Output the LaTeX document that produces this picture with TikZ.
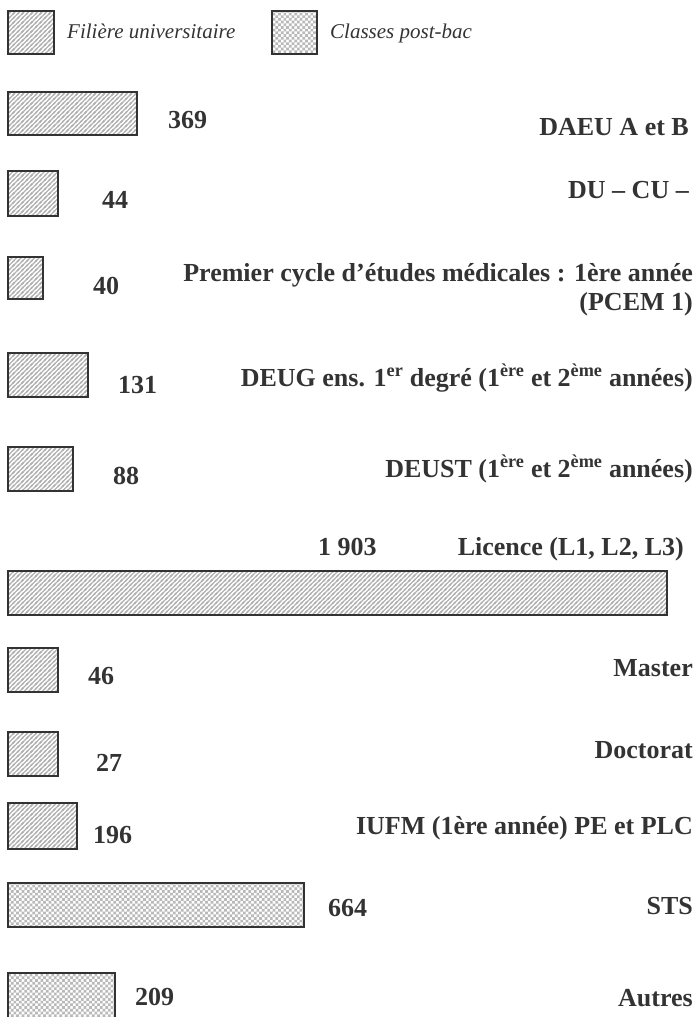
\documentclass[tikz,border=0pt]{standalone}
\usepackage{fontspec}
\setmainfont{Liberation Serif}
\usetikzlibrary{patterns}
\pgfdeclarepatternformonly{mychecker}{\pgfqpoint{-1pt}{-1pt}}{\pgfqpoint{6.4pt}{6.4pt}}{\pgfqpoint{5.4pt}{5.4pt}}{%
  \pgfpathrectangle{\pgfqpoint{0pt}{0pt}}{\pgfqpoint{2.7pt}{2.7pt}}%
  \pgfpathrectangle{\pgfqpoint{2.7pt}{2.7pt}}{\pgfqpoint{2.7pt}{2.7pt}}%
  \pgfusepath{fill}}
\pgfdeclarepatternformonly{myhatch}{\pgfqpoint{-1pt}{-1pt}}{\pgfqpoint{5.5pt}{5.5pt}}{\pgfqpoint{4.5pt}{4.5pt}}{%
  \pgfsetlinewidth{1.1pt}%
  \pgfpathmoveto{\pgfqpoint{-1pt}{-1pt}}\pgfpathlineto{\pgfqpoint{5.5pt}{5.5pt}}%
  \pgfpathmoveto{\pgfqpoint{-1pt}{3.5pt}}\pgfpathlineto{\pgfqpoint{1pt}{5.5pt}}%
  \pgfpathmoveto{\pgfqpoint{3.5pt}{-1pt}}\pgfpathlineto{\pgfqpoint{5.5pt}{1pt}}%
  \pgfusepath{stroke}}
\definecolor{frame}{HTML}{333333}
\begin{document}
\begin{tikzpicture}[x=1pt,y=-1pt,
  univ/.style={draw=frame,line width=2pt,pattern=myhatch,pattern color=gray!60},
  post/.style={draw=frame,line width=2pt,pattern=mychecker,pattern color=gray!55},
  num/.style={anchor=base west,inner sep=0pt,font=\bfseries\fontsize{26}{30}\selectfont,text=frame},
  lab/.style={anchor=base east,inner sep=0pt,font=\bfseries\fontsize{26}{30}\selectfont,text=frame,align=right},
  leg/.style={anchor=base west,inner sep=0pt,font=\itshape\fontsize{21}{25}\selectfont,text=frame}]
\useasboundingbox (0,0) rectangle (696,1017);
% legend
\path[univ] (8,11) rectangle (54,54);
\node[leg] (legu) at (67,38) {Filière universitaire};
\path[post] (272,11) rectangle (317,54);
\node[leg] (legp) at (330,38) {Classes post-bac};
% bars
\path[univ] (8,92) rectangle (137,135);
\node[num] (n1) at (168,128) {369};
\node[lab] (l1) at (689,135) {DAEU A et B};
\path[univ] (8,171) rectangle (58,216);
\node[num] (n2) at (102,208) {44};
\node[lab] (l2) at (689,198) {DU – CU –};
\path[univ] (8,257) rectangle (43,299);
\node[num] (n3) at (93,294) {40};
\node[lab] (l3a) at (693,281) {Premier cycle d’études médicales : 1ère année};
\node[lab] (l3b) at (693,310) {(PCEM 1)};
\path[univ] (8,353) rectangle (88,397);
\node[num] (n4) at (118,393) {131};
\node[lab] (l4) at (693,386) {DEUG ens. 1\textsuperscript{er} degré (1\textsuperscript{ère} et 2\textsuperscript{ème} années)};
\path[univ] (8,447) rectangle (73,491);
\node[num] (n5) at (113,484) {88};
\node[lab] (l5) at (693,477) {DEUST (1\textsuperscript{ère} et 2\textsuperscript{ème} années)};
\node[num] (n6) at (318,555) {1 903};
\node[lab] (l6) at (684,555) {Licence (L1, L2, L3)};
\path[univ] (8,571) rectangle (667,615);
\path[univ] (8,648) rectangle (58,692);
\node[num] (n7) at (88,684) {46};
\node[lab] (l7) at (693,676) {Master};
\path[univ] (8,732) rectangle (58,776);
\node[num] (n8) at (96,771) {27};
\node[lab] (l8) at (693,758) {Doctorat};
\path[univ] (8,803) rectangle (77,849);
\node[num] (n9) at (93,843) {196};
\node[lab] (l9) at (693,834) {IUFM (1ère année) PE et PLC};
\path[post] (8,883) rectangle (304,927);
\node[num] (n10) at (328,916) {664};
\node[lab] (l10) at (693,914) {STS};
\path[post] (8,973) rectangle (115,1020);
\node[num] (n11) at (135,1005) {209};
\node[lab] (l11) at (693,1006) {Autres};
\end{tikzpicture}
\end{document}
